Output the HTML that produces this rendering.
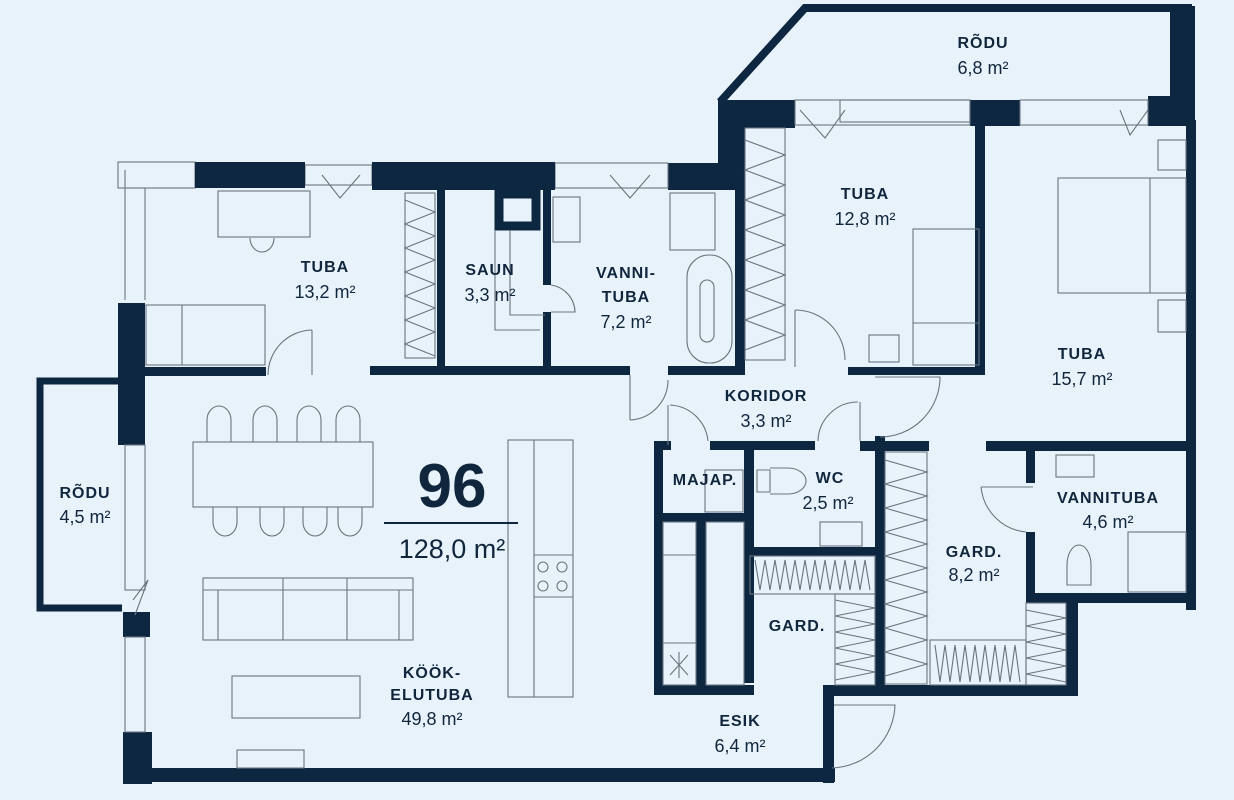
<!DOCTYPE html>
<html><head><meta charset="utf-8"><style>
html,body{margin:0;padding:0;background:#e8f2fa;}
svg{display:block}
.l{font-family:"Liberation Sans",sans-serif;font-weight:bold;font-size:16px;fill:#10263d;letter-spacing:1px;text-anchor:middle}
.a{font-family:"Liberation Sans",sans-serif;font-size:18px;fill:#10263d;text-anchor:middle}
.f{fill:none;stroke:#6a7580;stroke-width:1.1}
.w{fill:#0e2740}
</style></head><body>
<svg width="1234" height="800" viewBox="0 0 1234 800" xmlns="http://www.w3.org/2000/svg">
<rect width="1234" height="800" fill="#e8f2fa"/>
<path d="M720,102 L805,8 L1192,8" fill="none" stroke="#0e2740" stroke-width="8"/>
<rect class="w" x="1170" y="6" width="25" height="112"/>
<rect class="w" x="1148" y="96" width="47" height="30"/>
<rect class="w" x="970" y="100" width="50" height="26"/>
<rect class="w" x="718" y="100" width="77" height="28"/>
<rect class="w" x="718" y="100" width="27" height="90"/>
<rect class="w" x="735" y="100" width="10" height="268"/>
<rect class="w" x="668" y="163" width="52" height="27"/>
<rect class="w" x="1186" y="120" width="10" height="490"/>
<rect class="w" x="975" y="120" width="10" height="255"/>
<rect class="w" x="848" y="367" width="137" height="8"/>
<g class="f"><rect x="795" y="100" width="175" height="25"/><rect x="840" y="100" width="130" height="22"/><rect x="1020" y="100" width="128" height="25"/>
<rect x="555" y="163" width="113" height="25"/><rect x="118" y="162" width="77" height="26"/><path d="M145,188 V300 M125,170 V300"/><rect x="305" y="165" width="67" height="20"/>
<path d="M800,110 L825,138 L845,110 M1120,110 L1130,135 L1148,110 M322,175 L340,198 L360,175 M610,175 L630,198 L650,175"/></g>
<rect class="w" x="195" y="162" width="110" height="26"/>
<rect class="w" x="372" y="162" width="183" height="28"/>
<rect class="w" x="118" y="303" width="27" height="142"/>
<rect class="w" x="118" y="367" width="148" height="9"/>
<rect class="w" x="370" y="366" width="260" height="9"/>
<rect class="w" x="668" y="366" width="77" height="9"/>
<rect class="w" x="437" y="190" width="8" height="178"/>
<rect class="w" x="543" y="190" width="8" height="95"/>
<rect class="w" x="543" y="312" width="8" height="56"/>
<path d="M499,194 H536 V226 H499 Z" fill="none" stroke="#0e2740" stroke-width="9"/>
<path d="M120,381 H40 V608 H122" fill="none" stroke="#0e2740" stroke-width="7"/>
<rect class="w" x="123" y="612" width="27" height="25"/>
<rect class="w" x="123" y="732" width="29" height="52"/>
<rect class="w" x="130" y="768" width="705" height="14"/>
<rect class="w" x="823" y="685" width="11" height="98"/>
<g class="f"><rect x="125" y="445" width="20" height="145"/><rect x="125" y="637" width="20" height="95"/><path d="M133,600 L148,580 L135,615"/></g>
<rect class="w" x="654" y="441" width="17" height="9"/>
<rect class="w" x="710" y="441" width="105" height="9"/>
<rect class="w" x="860" y="441" width="69" height="10"/>
<rect class="w" x="875" y="436" width="10" height="260"/>
<rect class="w" x="986" y="441" width="210" height="10"/>
<rect class="w" x="654" y="441" width="9" height="254"/>
<rect class="w" x="744" y="441" width="10" height="242"/>
<rect class="w" x="696" y="522" width="10" height="165"/>
<rect class="w" x="654" y="513" width="100" height="9"/>
<rect class="w" x="754" y="547" width="126" height="9"/>
<rect class="w" x="654" y="685" width="100" height="10"/>
<rect class="w" x="823" y="685" width="255" height="11"/>
<rect class="w" x="1066" y="596" width="12" height="100"/>
<rect class="w" x="1026" y="593" width="170" height="10"/>
<rect class="w" x="1026" y="451" width="9" height="32"/>
<rect class="w" x="1026" y="532" width="9" height="70"/>
<g class="f">
<path d="M312,330 A45,45 0 0 0 268,375 M312,330 V375"/>
<path d="M795,310 A50,50 0 0 1 845,360 M795,310 V367"/>
<path d="M630,420 A40,40 0 0 0 668,380 M630,375 V420"/>
<path d="M875,377 H940 A60,60 0 0 1 880,437"/>
<path d="M670,405 A40,40 0 0 1 708,441 M668,405 V445"/>
<path d="M858,402 A40,40 0 0 0 818,441 M860,402 V441"/>
<path d="M981,487 H1033 M981,487 A50,50 0 0 0 1026,532"/>
<path d="M834,705 H895 A65,65 0 0 1 832,768"/>
<path d="M551,285 A28,28 0 0 1 575,312 H551"/>
</g>
<g class="f">
<rect x="218" y="191" width="92" height="46"/><path d="M250,238 A12,14 0 0 0 274,238"/>
<rect x="146" y="305" width="119" height="60"/><path d="M182,305 V365"/>
<rect x="405" y="193" width="30" height="165"/><path d="M405,200 L435,212 L405,224 L435,236 L405,248 L435,260 L405,272 L435,284 L405,296 L435,308 L405,320 L435,332 L405,344 L435,356"/>
<path d="M495,230 V330 H540 M510,230 V315 H545"/>
<rect x="553" y="197" width="27" height="45"/>
<rect x="670" y="193" width="45" height="57"/>
<rect x="687" y="255" width="45" height="108" rx="22"/><rect x="700" y="280" width="14" height="62" rx="7"/>
<rect x="745" y="128" width="40" height="232"/><path d="M745,140 L785,155 L745,170 L785,185 L745,200 L785,215 L745,230 L785,245 L745,260 L785,275 L745,290 L785,305 L745,320 L785,335 L745,350"/>
<rect x="913" y="229" width="66" height="136"/><path d="M913,323 H979"/><rect x="869" y="335" width="30" height="27"/>
<rect x="1058" y="178" width="128" height="115"/><path d="M1150,178 V293"/><rect x="1158" y="140" width="28" height="30"/><rect x="1158" y="300" width="28" height="32"/>
<rect x="193" y="442" width="180" height="65"/>
<path d="M207,442 V420 A12,14 0 0 1 231,420 V442 M253,442 V420 A12,14 0 0 1 277,420 V442 M297,442 V420 A12,14 0 0 1 321,420 V442 M336,442 V420 A12,14 0 0 1 360,420 V442"/>
<path d="M213,507 V522 A12,14 0 0 0 237,522 V507 M260,507 V522 A12,14 0 0 0 284,522 V507 M303,507 V522 A12,14 0 0 0 327,522 V507 M338,507 V522 A12,14 0 0 0 362,522 V507"/>
<rect x="203" y="578" width="210" height="62"/><path d="M203,590 H413 M218,590 V640 M283,578 V640 M347,578 V640 M399,590 V640"/>
<rect x="232" y="676" width="128" height="42"/>
<rect x="237" y="750" width="67" height="18"/>
<rect x="508" y="440" width="65" height="257"/><path d="M534,440 V697 M534,555 H573 M534,597 H573"/>
<circle cx="543" cy="567" r="5"/><circle cx="562" cy="567" r="5"/><circle cx="543" cy="586" r="5"/><circle cx="562" cy="586" r="5"/>
<rect x="663" y="522" width="33" height="163"/><path d="M663,555 H696 M663,643 H696 M670,655 L688,675 M688,655 L670,675 M679,652 V678"/>
<rect x="706" y="522" width="38" height="163"/>
<rect x="705" y="470" width="38" height="42"/>
<path d="M757,470 H770 V492 H757 Z M770,468 H788 A18,13 0 0 1 788,494 H770"/>
<rect x="820" y="522" width="42" height="24"/>
<rect x="750" y="556" width="125" height="38"/><path d="M755,560 L760,590 L765,560 L770,590 L775,560 L780,590 L785,560 L790,590 L795,560 L800,590 L805,560 L810,590 L815,560 L820,590 L825,560 L830,590 L835,560 L840,590 L845,560 L850,590 L855,560 L860,590 L865,560 L870,590"/>
<rect x="835" y="594" width="40" height="91"/><path d="M835,600 L875,608 L835,616 L875,624 L835,632 L875,640 L835,648 L875,656 L835,664 L875,672 L835,680"/>
<rect x="885" y="452" width="42" height="232"/><path d="M885,460 L927,472 L885,484 L927,496 L885,508 L927,520 L885,532 L927,544 L885,556 L927,568 L885,580 L927,592 L885,604 L927,616 L885,628 L927,640 L885,652 L927,664 L885,676"/>
<rect x="930" y="640" width="96" height="45"/><path d="M935,645 L940,682 L945,645 L950,682 L955,645 L960,682 L965,645 L970,682 L975,645 L980,682 L985,645 L990,682 L995,645 L1000,682 L1005,645 L1010,682 L1015,645 L1020,682"/>
<rect x="1026" y="603" width="40" height="82"/><path d="M1026,610 L1066,618 L1026,626 L1066,634 L1026,642 L1066,650 L1026,658 L1066,666 L1026,674 L1066,682"/>
<rect x="1056" y="455" width="38" height="22"/>
<rect x="1128" y="532" width="58" height="60"/>
<path d="M1067,585 V565 A12,20 0 0 1 1091,565 V585 Z"/>
</g>
<text class="l" x="325" y="272">TUBA</text><text class="a" x="325" y="298">13,2 m²</text>
<text class="l" x="490" y="275">SAUN</text><text class="a" x="490" y="301">3,3 m²</text>
<text class="l" x="626" y="278">VANNI-</text><text class="l" x="626" y="302">TUBA</text><text class="a" x="626" y="328">7,2 m²</text>
<text class="l" x="983" y="48">RÕDU</text><text class="a" x="983" y="74">6,8 m²</text>
<text class="l" x="865" y="199">TUBA</text><text class="a" x="865" y="225">12,8 m²</text>
<text class="l" x="1082" y="359">TUBA</text><text class="a" x="1082" y="385">15,7 m²</text>
<text class="l" x="766" y="401">KORIDOR</text><text class="a" x="766" y="427">3,3 m²</text>
<text class="l" x="705" y="485">MAJAP.</text>
<text class="l" x="830" y="483">WC</text><text class="a" x="828" y="509">2,5 m²</text>
<text class="l" x="1108" y="503">VANNITUBA</text><text class="a" x="1108" y="528">4,6 m²</text>
<text class="l" x="974" y="557">GARD.</text><text class="a" x="974" y="581">8,2 m²</text>
<text class="l" x="797" y="631">GARD.</text>
<text class="l" x="85" y="498">RÕDU</text><text class="a" x="85" y="523">4,5 m²</text>
<text class="l" x="432" y="678">KÖÖK-</text><text class="l" x="432" y="700">ELUTUBA</text><text class="a" x="432" y="725">49,8 m²</text>
<text class="l" x="740" y="726">ESIK</text><text class="a" x="740" y="752">6,4 m²</text>
<text x="452" y="507" font-family="Liberation Sans,sans-serif" font-weight="bold" font-size="62" fill="#10263d" text-anchor="middle">96</text>
<rect x="384" y="522" width="134" height="2" fill="#10263d"/>
<text x="452" y="558" font-family="Liberation Sans,sans-serif" font-size="27" fill="#10263d" text-anchor="middle">128,0 m²</text>
</svg>
</body></html>
